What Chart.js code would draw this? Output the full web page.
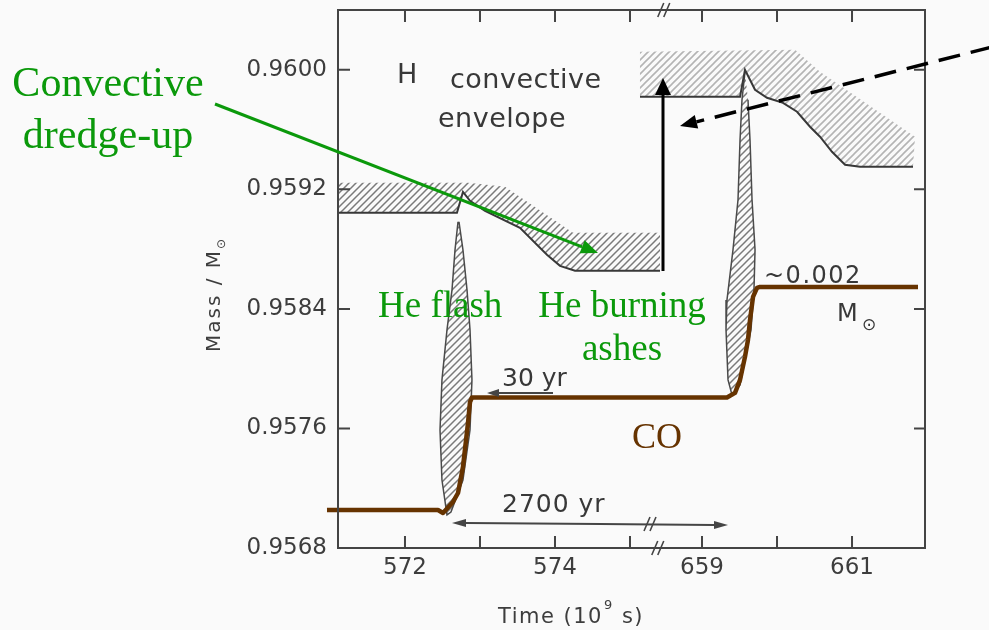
<!DOCTYPE html>
<html>
<head>
<meta charset="utf-8">
<script src="https://cdn.jsdelivr.net/npm/chart.js@4.4.1/dist/chart.umd.min.js"></script>
<style>
  html, body { margin: 0; padding: 0; background: #fafafa; }
  #wrap { width: 989px; height: 630px; }
</style>
</head>
<body>
<div id="wrap"><canvas id="myChart" width="989" height="630"></canvas></div>
<script>
// time in 10^9 s (axis is broken between 575 and 659), mass in M_sun

// lower edge of the H convective envelope (black line)
const envLeftT = [571.107, 572.693, 572.773, 572.867, 573.067, 573.533, 573.893, 574.067, 574.267, 575.400];
const envLeftM = [0.959043, 0.959043, 0.959183, 0.959123, 0.959056, 0.958942, 0.958762, 0.958688, 0.958655, 0.958655];
const envRightT = [658.173, 659.507, 659.573, 659.707, 659.867, 660.080, 660.267, 660.440, 660.573, 660.733, 660.907, 661.107, 661.813];
const envRightM = [0.959819, 0.959819, 0.960000, 0.959866, 0.959813, 0.959779, 0.959719, 0.959619, 0.959552, 0.959451, 0.959364, 0.959351, 0.959351];

// upper edge of the hatched band
const bandLeftT = [571.107, 572.840, 573.333, 574.240, 575.400];
const bandLeftM = [0.959244, 0.959244, 0.959217, 0.958909, 0.958909];
const bandRightT = [658.173, 660.240, 660.573, 661.840];
const bandRightM = [0.960121, 0.960134, 0.959987, 0.959552];

// He flash convective zones (closed outlines)
const flash1T = [572.707, 572.667, 572.627, 572.560, 572.493, 572.467, 572.493, 572.560, 572.613, 572.773, 572.867, 572.893, 572.867, 572.827, 572.773, 572.720];
const flash1M = [0.958983, 0.958795, 0.958527, 0.958260, 0.957925, 0.957590, 0.957255, 0.957021, 0.957041, 0.957255, 0.957590, 0.957925, 0.958260, 0.958527, 0.958795, 0.958983];
const flash2T = [659.573, 659.533, 659.507, 659.480, 659.413, 659.333, 659.320, 659.347, 659.400, 659.507, 659.653, 659.693, 659.707, 659.667, 659.640, 659.613];
const flash2M = [0.959987, 0.959799, 0.959532, 0.959130, 0.958795, 0.958460, 0.958260, 0.957925, 0.957824, 0.957891, 0.958260, 0.958527, 0.958795, 0.959130, 0.959532, 0.959799];

// CO core boundary (brown)
const coreT = [570.960, 572.440, 572.507, 572.640, 572.707, 572.773, 572.840, 572.867, 572.893, 659.333, 659.440, 659.507, 659.573, 659.613, 659.640, 659.680, 659.733, 659.773, 661.880];
const coreM = [0.957054, 0.957054, 0.957034, 0.957108, 0.957168, 0.957342, 0.957637, 0.957777, 0.957807, 0.957807, 0.957838, 0.957925, 0.958079, 0.958193, 0.958326, 0.958480, 0.958541, 0.958547, 0.958547];

const xTickTimes = [572, 573, 574, 575, 659, 660, 661];
const xTickLabels = ['572', '', '574', '', '659', '', '661'];
const yTickLabels = ['0.9568', '0.9576', '0.9584', '0.9592', '0.9600'];

const BREAK_AT = 600;
const BREAK_SHIFT = 83.04;
const toAxis = (t) => (t > BREAK_AT ? t - BREAK_SHIFT : t);
const pts = (ts, ms) => ts.map((t, i) => ({ x: toAxis(t), y: ms[i] }));
const ring = (topT, topM, lowT, lowM) =>
  pts(topT.concat(lowT.slice().reverse()), topM.concat(lowM.slice().reverse()));

const INK = '#383838';
const GREEN = '#0b990b';
const BROWN = '#663300';

const canvas = document.getElementById('myChart');
const ctx = canvas.getContext('2d');

function hatch(color, width) {
  const s = 7;
  const c = document.createElement('canvas');
  c.width = s;
  c.height = s;
  const g = c.getContext('2d');
  g.strokeStyle = color;
  g.lineWidth = width;
  g.beginPath();
  g.moveTo(0, s); g.lineTo(s, 0);
  g.moveTo(-s / 2, s / 2); g.lineTo(s / 2, -s / 2);
  g.moveTo(s / 2, s * 1.5); g.lineTo(s * 1.5, s / 2);
  g.stroke();
  return ctx.createPattern(c, 'repeat');
}
const hatchDark = hatch('#7a7a7a', 1.5);
const hatchLight = hatch('#b4b4b4', 1.6);

function arrowTo(c, x1, y1, x2, y2, len, half, color) {
  const a = Math.atan2(y2 - y1, x2 - x1);
  const bx = x2 - len * Math.cos(a), by = y2 - len * Math.sin(a);
  c.beginPath();
  c.moveTo(x1, y1);
  c.lineTo(bx, by);
  c.stroke();
  c.setLineDash([]);
  c.fillStyle = color;
  c.beginPath();
  c.moveTo(x2, y2);
  c.lineTo(bx + half * Math.sin(a), by - half * Math.cos(a));
  c.lineTo(bx - half * Math.sin(a), by + half * Math.cos(a));
  c.closePath();
  c.fill();
}

function breakMark(c, x, y) {
  c.beginPath();
  for (const dx of [-3, 3]) {
    c.moveTo(x + dx - 3, y + 7);
    c.lineTo(x + dx + 3, y - 7);
  }
  c.stroke();
}

// texts of the scanned figure and of the overlay
const notes = [
  { text: 'H', x: 397, y: 83, font: '27px "DejaVu Sans"', color: INK },
  { text: 'convective', x: 450, y: 88, font: '27px "DejaVu Sans"', color: INK, spacing: '0.5px' },
  { text: 'envelope', x: 438, y: 127, font: '27px "DejaVu Sans"', color: INK, spacing: '0.5px' },
  { text: '~0.002', x: 764, y: 283, font: '24px "DejaVu Sans"', color: INK, spacing: '1.5px' },
  { text: 'M', x: 837, y: 321, font: '24px "DejaVu Sans"', color: INK },
  { text: '⊙', x: 862, y: 330, font: '17px "DejaVu Sans"', color: INK },
  { text: '30 yr', x: 502, y: 386, font: '25px "DejaVu Sans"', color: INK },
  { text: '2700 yr', x: 502, y: 512, font: '25px "DejaVu Sans"', color: INK, spacing: '1px' },
  { text: 'Convective', x: 108, y: 96, font: '42px "Liberation Serif"', color: GREEN, align: 'center' },
  { text: 'dredge-up', x: 108, y: 148, font: '42px "Liberation Serif"', color: GREEN, align: 'center' },
  { text: 'He flash', x: 378, y: 317, font: '37px "Liberation Serif"', color: GREEN },
  { text: 'He burning', x: 622, y: 317, font: '37px "Liberation Serif"', color: GREEN, align: 'center' },
  { text: 'ashes', x: 622, y: 360, font: '37px "Liberation Serif"', color: GREEN, align: 'center' },
  { text: 'CO', x: 632, y: 448, font: '36px "Liberation Serif"', color: BROWN },
];

const framePlugin = {
  id: 'frame',
  afterDatasetsDraw(chart) {
    const { ctx: c, chartArea: a, scales } = chart;
    c.save();
    c.strokeStyle = '#444';
    c.lineWidth = 2;
    c.strokeRect(a.left, a.top, a.right - a.left, a.bottom - a.top);
    c.beginPath();
    for (const t of scales.x.ticks) {
      const x = scales.x.getPixelForValue(t.value);
      c.moveTo(x, a.bottom); c.lineTo(x, a.bottom - 12);
      c.moveTo(x, a.top); c.lineTo(x, a.top + 12);
    }
    for (const t of scales.y.ticks) {
      const y = scales.y.getPixelForValue(t.value);
      if (y < a.top + 2 || y > a.bottom - 2) continue;
      c.moveTo(a.left, y); c.lineTo(a.left + 12, y);
      c.moveTo(a.right, y); c.lineTo(a.right - 11, y);
    }
    c.stroke();
    c.lineWidth = 1.6;
    const xb = scales.x.getPixelForValue(575.37);
    breakMark(c, xb, a.bottom);
    breakMark(c, xb + 6, a.top);
    c.restore();
  },
  afterDraw(chart) {
    const c = chart.ctx;
    c.save();
    // axis titles
    c.fillStyle = '#3d3d3d';
    c.textBaseline = 'alphabetic';
    c.letterSpacing = '1.5px';
    c.font = '21px "DejaVu Sans"';
    c.textAlign = 'left';
    let x = 498;
    c.fillText('Time (10', x, 623);
    x += c.measureText('Time (10').width + 1;
    c.font = '13px "DejaVu Sans"';
    c.fillText('9', x, 609);
    x += c.measureText('9').width;
    c.font = '21px "DejaVu Sans"';
    c.fillText(' s)', x, 623);

    c.save();
    c.translate(220, 352);
    c.rotate(-Math.PI / 2);
    c.font = '20px "DejaVu Sans"';
    c.letterSpacing = '2px';
    c.fillText('Mass / M', 0, 0);
    const w = c.measureText('Mass / M').width;
    c.font = '12px "DejaVu Sans"';
    c.fillText('⊙', w, 5);
    c.restore();

    // small time-span arrows of the scan
    c.strokeStyle = '#454545';
    c.lineWidth = 2;
    arrowTo(c, 553, 393, 487, 393, 12, 4, '#454545');
    arrowTo(c, 600, 524, 452, 523, 14, 4, '#454545');
    arrowTo(c, 600, 524, 728, 525, 14, 4, '#454545');
    c.lineWidth = 1.6;
    breakMark(c, 650, 524);

    for (const n of notes) {
      c.font = n.font;
      c.fillStyle = n.color;
      c.textAlign = n.align || 'left';
      c.letterSpacing = n.spacing || '0px';
      c.fillText(n.text, n.x, n.y);
    }
    c.letterSpacing = '0px';

    // overlay arrows
    c.strokeStyle = GREEN;
    c.lineWidth = 3;
    arrowTo(c, 215, 104, 598, 253, 17, 7, GREEN);

    c.strokeStyle = '#000';
    c.lineWidth = 3;
    arrowTo(c, 663, 271, 663, 78, 17, 8, '#000');

    c.lineWidth = 3.5;
    c.setLineDash([22, 11]);
    arrowTo(c, 992, 47, 680, 126, 17, 7, '#000');
    c.restore();
  },
};

const myChart = new Chart(canvas, {
  type: 'line',
  data: {
    datasets: [
      { data: pts(coreT, coreM), borderColor: BROWN, borderWidth: 4.5, clip: false, borderJoinStyle: 'round' },
      { data: pts(envLeftT, envLeftM), borderColor: INK, borderWidth: 2 },
      { data: pts(envRightT, envRightM), borderColor: INK, borderWidth: 2 },
      { data: pts(flash1T, flash1M), borderColor: '#4a4a4a', borderWidth: 1.5, fill: 'shape', backgroundColor: hatchDark },
      { data: pts(flash2T, flash2M), borderColor: '#4a4a4a', borderWidth: 1.5, fill: 'shape', backgroundColor: hatchDark },
      { data: ring(bandLeftT, bandLeftM, envLeftT, envLeftM), borderColor: 'transparent', borderWidth: 1, fill: 'shape', backgroundColor: hatchDark },
      { data: ring(bandRightT, bandRightM, envRightT, envRightM), borderColor: 'transparent', borderWidth: 1, fill: 'shape', backgroundColor: hatchLight },
    ],
  },
  plugins: [framePlugin],
  options: {
    responsive: false,
    animation: false,
    layout: { padding: { left: 0, right: 64, top: 10, bottom: 0 } },
    elements: {
      point: { radius: 0, hoverRadius: 0 },
      line: { tension: 0 },
    },
    plugins: {
      legend: { display: false },
      tooltip: { enabled: false },
    },
    scales: {
      x: {
        type: 'linear',
        min: 571.107,
        max: 578.933,
        afterBuildTicks: (scale) => {
          scale.ticks = xTickTimes.map((t) => ({ value: toAxis(t) }));
        },
        afterFit: (scale) => {
          scale.height = 82;
          scale.paddingLeft = 0;
          scale.paddingRight = 0;
        },
        grid: { display: false, drawTicks: false },
        border: { display: false },
        ticks: {
          autoSkip: false,
          maxRotation: 0,
          padding: 6,
          color: '#3d3d3d',
          font: { family: 'DejaVu Sans', size: 23 },
          callback: (v, i) => xTickLabels[i],
        },
      },
      y: {
        type: 'linear',
        min: 0.9568,
        max: 0.9604,
        afterFit: (scale) => {
          scale.width = 338;
          scale.paddingTop = 0;
          scale.paddingBottom = 0;
        },
        grid: { display: false, drawTicks: false },
        border: { display: false },
        ticks: {
          stepSize: 0.0002,
          autoSkip: false,
          padding: 11,
          color: '#3d3d3d',
          font: { family: 'DejaVu Sans', size: 23 },
          callback: (v) => {
            const s = Number(v).toFixed(4);
            return yTickLabels.includes(s) ? s : null;
          },
        },
      },
    },
  },
});
</script>
</body>
</html>
